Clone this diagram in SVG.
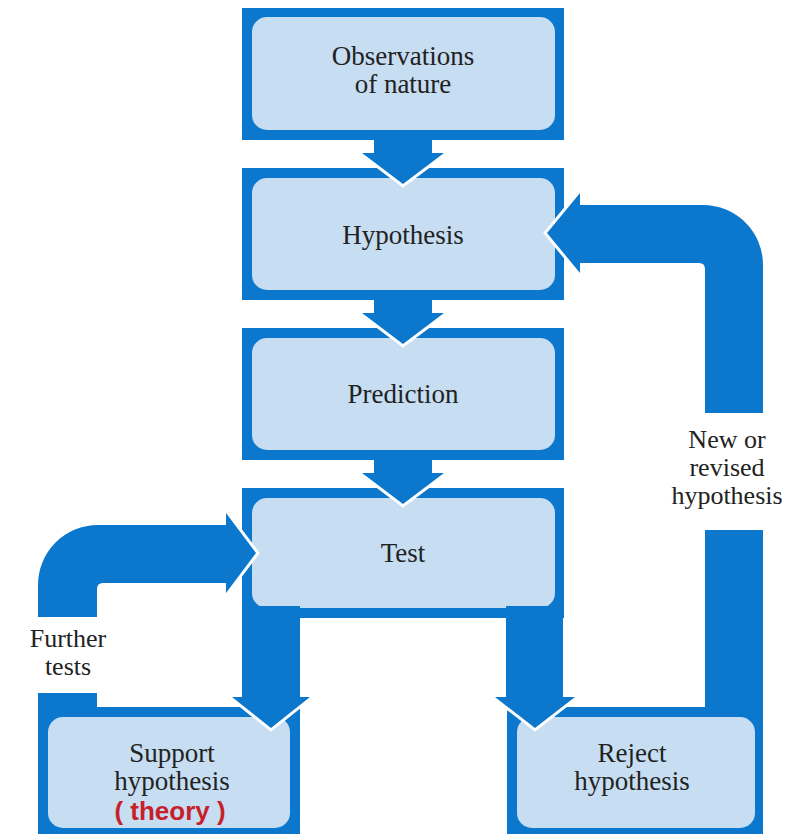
<svg xmlns="http://www.w3.org/2000/svg" width="799" height="834" viewBox="0 0 799 834">
<style>
.outer{fill:#0b78cd}
.inner{fill:#c6ddf2}
.t{font-family:"Liberation Serif","Times New Roman",serif;font-size:27px;fill:#222;text-anchor:middle}
.lab{font-family:"Liberation Serif","Times New Roman",serif;font-size:26px;fill:#222;text-anchor:middle}
.red{font-family:"Liberation Sans",Arial,sans-serif;font-size:26px;font-weight:bold;fill:#c8202a;text-anchor:middle}
.conn{fill:#0b78cd}
.halo{fill:none;stroke:#fff;stroke-width:6;stroke-linejoin:miter}
</style>
<rect width="799" height="834" fill="#fff"/>
<g id="observations">
<rect class="outer" x="242" y="8" width="322" height="132"/>
<rect class="inner" x="252" y="17" width="303" height="113" rx="15"/>
<text class="t" x="403" y="65">Observations</text>
<text class="t" x="403" y="93">of nature</text>
</g>
<g id="hypothesis">
<rect class="outer" x="242" y="168" width="322" height="132"/>
<rect class="inner" x="252" y="178" width="303" height="112" rx="15"/>
<text class="t" x="403" y="244">Hypothesis</text>
</g>
<g id="prediction">
<rect class="outer" x="242" y="328" width="322" height="132"/>
<rect class="inner" x="252" y="338" width="303" height="112" rx="15"/>
<text class="t" x="403" y="403">Prediction</text>
</g>
<g id="test">
<rect class="outer" x="242" y="488" width="322" height="130"/>
<rect class="inner" x="252" y="498" width="303" height="110" rx="15"/>
<text class="t" x="403" y="562">Test</text>
</g>
<g id="support">
<rect class="outer" x="38" y="707" width="262" height="127"/>
<rect class="inner" x="48" y="717" width="242" height="111" rx="15"/>
<text class="t" x="172" y="762">Support</text>
<text class="t" x="172" y="790">hypothesis</text>
<text class="red" x="170" y="820">( theory )</text>
</g>
<g id="reject">
<rect class="outer" x="507" y="707" width="256" height="127"/>
<rect class="inner" x="517" y="717" width="238" height="111" rx="15"/>
<text class="t" x="632" y="762">Reject</text>
<text class="t" x="632" y="790">hypothesis</text>
</g>
<g id="connectors">
<polyline class="halo" points="362,153 403,184 444,153"/>
<polygon class="conn" points="374,139 432,139 432,153 444,153 403,184 362,153 374,153"/>
<polyline class="halo" points="362,313 403,344 444,313"/>
<polygon class="conn" points="374,299 432,299 432,313 444,313 403,344 362,313 374,313"/>
<polyline class="halo" points="362,473 403,504 444,473"/>
<polygon class="conn" points="374,459 432,459 432,473 444,473 403,504 362,473 374,473"/>
<polyline class="halo" points="232,697 271,728 310,697"/>
<polygon class="conn" points="242,606 300,606 300,697 310,697 271,728 232,697 242,697"/>
<polyline class="halo" points="495,697 535,728 575,697"/>
<polygon class="conn" points="506,606 563,606 563,697 575,697 535,728 495,697 506,697"/>
<rect class="conn" x="38" y="693" width="59" height="16"/>
<polyline class="halo" points="226,513 256,553 226,593"/>
<path class="conn" d="M38,617 L38,585 A60,60 0 0 1 98,525 L226,525 L226,513 L256,553 L226,593 L226,583 L103,583 Q97,583 97,589 L97,617 Z"/>
<text class="lab" x="68" y="647">Further</text>
<text class="lab" x="68" y="675">tests</text>
<rect class="conn" x="705" y="530" width="58" height="179"/>
<polyline class="halo" points="580,273 547,233 580,193"/>
<path class="conn" d="M763,413 L763,265 A60,60 0 0 0 703,205 L580,205 L580,193 L547,233 L580,273 L580,263 L699,263 Q705,263 705,269 L705,413 Z"/>
<text class="lab" x="727" y="448">New or</text>
<text class="lab" x="727" y="476">revised</text>
<text class="lab" x="727" y="504">hypothesis</text>
</g>
</svg>
